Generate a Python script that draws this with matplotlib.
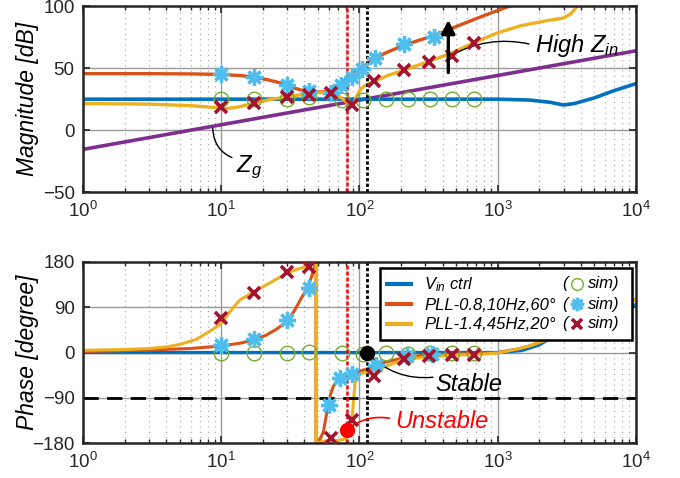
import matplotlib.pyplot as plt
import numpy as np
from matplotlib.lines import Line2D
from matplotlib.ticker import LogLocator, NullFormatter

plt.rcParams['font.family'] = ['Liberation Sans', 'DejaVu Sans']
plt.rcParams['mathtext.fontset'] = 'custom'
plt.rcParams['mathtext.rm'] = 'Liberation Sans'
plt.rcParams['mathtext.it'] = 'Liberation Sans:italic'
plt.rcParams['mathtext.bf'] = 'Liberation Sans:bold'

# colours (MATLAB default order)
c_vin = '#0072BD'
c_pll1 = '#D95319'
c_pll2 = '#EDB120'
c_zg = '#7E2F8E'
c_circ = '#77AC30'
c_star = '#4DBEEE'
c_x = '#A2142F'
ink = '#262626'

# ---- magnitude data [dB] ----
zg_f = [1, 1e4]
zg_db = [-15.5, 64]

vin_mag_f = [1, 100, 1000, 1700, 2400, 3000, 3600, 5000, 7000, 10000]
vin_mag_db = [25, 25, 25, 24.3, 22.5, 20.3, 21.5, 26, 32, 37.5]

pll1_mag_f = [1, 3, 6, 10, 14, 18, 22, 26, 30, 34, 38, 43, 50, 56, 61, 66, 73, 80,
              88, 96, 105, 115, 130, 160, 210, 270, 350, 500, 700, 1000, 1250]
pll1_mag_db = [45.6, 45.6, 45.4, 45, 44, 42.5, 40.5, 38.5, 36.3, 34, 32.3, 31.2, 30.8,
               31, 32.3, 34.5, 37.5, 41, 44, 47.5, 50.5, 54, 58.5, 63, 68.5, 72.5,
               76.5, 83.5, 90, 96.5, 100.5]

pll2_mag_f = [1, 3, 6, 9, 11, 13, 17, 22, 30, 38, 45, 52, 58, 64, 70, 76, 82, 87, 90,
              93, 97, 103, 110, 128, 160, 210, 320, 470, 670, 1000, 1500, 2200, 3000,
              3400, 3800]
pll2_mag_db = [21.5, 21, 19.8, 18.3, 17.5, 18.5, 21.5, 24.5, 27, 28.7, 29.8, 30.3, 30.5,
               30, 28, 25, 22, 20.5, 20.8, 24, 29, 33.5, 36, 39.5, 44, 48.5, 55.5, 62.5,
               70.5, 78.5, 84.5, 88, 90.5, 94, 100.5]

# ---- phase data [deg] ----
vin_ph_f = [1, 1000, 1500, 2000, 3000, 10000]
vin_ph_deg = [0, 0, 4, 15, 45, 95]

pll1_ph_f = [1, 3, 6, 10, 14, 17, 21, 25, 30, 34, 38, 42, 45, 48.5, 48.5, 52, 55, 57,
             59.6, 62, 64.6, 68, 73.5, 80, 88, 100, 113, 130, 160, 220, 330, 500, 1000,
             1400, 1700, 2200, 3000, 5000, 10000]
pll1_ph_deg = [2, 5, 8, 13, 19, 25, 34, 46, 62, 84, 108, 128, 150, 180, -180, -172,
               -157, -132, -104, -82, -68, -58, -51, -46, -42, -37, -33, -25, -18, -9,
               -4, -3, 0, 7, 13, 24, 45, 80, 105]

pll2_ph_f = [1, 2, 3, 4, 5, 6.6, 8.7, 10, 11.5, 13.6, 17, 22.4, 30, 36, 43, 48.5, 48.5,
             55, 62, 70, 78, 83, 87, 89, 91, 93, 95, 100, 110, 130, 160, 200, 260, 330,
             500, 700, 1000, 1400, 1700, 2200, 3000, 5000, 10000]
pll2_ph_deg = [4.5, 6, 8, 11, 16, 26, 46, 58, 80, 104, 120, 138, 158, 166, 172, 180,
               -180, -176, -175, -175, -172, -166, -150, -125, -90, -62, -50, -44, -40,
               -36, -26, -16, -11, -8, -5, -4, -1, 7, 13, 24, 45, 80, 105]

# ---- simulation points ----
circ_f = [10, 17.3, 30, 43, 75, 106, 157, 224, 324, 467, 673]
circ_db = [25.5, 25.5, 25.5, 27, 24.5, 24.5, 25.5, 25, 25, 25, 25]
circ_deg = [0, 0, 0, 2, 0, -3, 0, -2, 0, 0, 0]

star_mag_f = [10, 17.3, 30, 43, 62, 73.5, 88, 105, 130, 210, 345]
star_db = [45.2, 42.5, 36.3, 31.7, 30.2, 36.5, 43, 49.5, 58.6, 69.5, 75]
star_ph_f = [10, 17.3, 30, 43, 60, 73, 88, 131, 222, 333]
star_deg = [15, 26, 64.6, 127.7, -104, -51.4, -42.8, -25.5, -7, -3]

x_f = [10, 17.3, 30, 43, 62, 89, 128, 210, 320, 470, 673]
x_db = [18.3, 22, 26.4, 28.2, 29.6, 20.2, 39.3, 48.4, 55.2, 60, 70.7]
x_deg = [68, 119, 160.7, 170.7, -170.7, -134, -46.7, -13, -6.5, -5, -5]

# crossover frequencies and phase margins
f_unstable, ph_unstable = 81.6, -153
f_stable, ph_stable = 113, 0

legend_labels = ['V$_{in}$ ctrl', 'PLL-0.8,10Hz,60°', 'PLL-1.4,45Hz,20°']


def style_axes(ax, yticks, ylim, ylabel):
    ax.set_xscale('log')
    ax.set_xlim(1, 1e4)
    ax.set_ylim(*ylim)
    ax.set_yticks(yticks)
    ax.xaxis.set_minor_locator(LogLocator(base=10, subs=np.arange(2, 10), numticks=20))
    ax.xaxis.set_minor_formatter(NullFormatter())
    ax.set_axisbelow(True)
    ax.grid(True, which='major', color='#9a9a9a', lw=1.0)
    ax.grid(True, which='minor', axis='x', color='#b0b0b0', lw=0.9, ls=(0, (1, 3.2)))
    ax.tick_params(which='both', direction='in', top=True, right=True,
                   labelsize=13.5, colors=ink, pad=6)
    ax.tick_params(which='major', length=5, width=1.2)
    ax.tick_params(which='minor', length=3, width=1)
    for s in ax.spines.values():
        s.set_linewidth(1.8)
        s.set_color(ink)
    ax.set_ylabel(ylabel, fontsize=16.5, style='italic', color='k')
    ax.yaxis.set_label_coords(-0.08, 0.5)


def crossover_lines(ax):
    ax.axvline(f_unstable, color='#ff0000', lw=1.8, ls=(0, (1.6, 0.8)), zorder=2.5)
    ax.axvline(f_stable, color='k', lw=2.0, ls=(0, (1.2, 0.8)), zorder=2.5)


fig = plt.figure(figsize=(6.8, 4.78), dpi=100)
ax1 = fig.add_axes([0.122, 0.598, 0.813, 0.389])
ax2 = fig.add_axes([0.122, 0.073, 0.813, 0.379])

star_kw = dict(ls='none', marker=(8, 2, 0), ms=12, mec=c_star, mfc=c_star, mew=2.4, zorder=4)
x_kw = dict(ls='none', marker='x', ms=9, mec=c_x, mew=2.6, zorder=4)
circ_kw = dict(ls='none', marker='o', ms=10.5, mfc='none', mec=c_circ, mew=1.0, zorder=4)

# magnitude
style_axes(ax1, [-50, 0, 50, 100], (-50, 100), 'Magnitude [dB]')
crossover_lines(ax1)
ax1.plot(zg_f, zg_db, color=c_zg, lw=2.6)
ax1.plot(vin_mag_f, vin_mag_db, color=c_vin, lw=2.6)
ax1.plot(pll1_mag_f, pll1_mag_db, color=c_pll1, lw=2.4)
ax1.plot(pll2_mag_f, pll2_mag_db, color=c_pll2, lw=2.4)
ax1.plot(circ_f, circ_db, **circ_kw)
ax1.plot(star_mag_f, star_db, **star_kw)
ax1.plot(x_f, x_db, **x_kw)

ax1.annotate('', xy=(440, 89), xytext=(440, 46.5),
             arrowprops=dict(arrowstyle='-|>', lw=2.4, color='k', mutation_scale=20,
                             shrinkA=0, shrinkB=0), zorder=5)
ax1.annotate('High Z$_{in}$', xy=(455, 60), xytext=(1850, 68.5), fontsize=17,
             style='italic', ha='left', va='center',
             arrowprops=dict(arrowstyle='-', lw=1.0, color='k', relpos=(0, 0.5),
                             shrinkA=2, shrinkB=0, connectionstyle='arc3,rad=0.2'))
ax1.annotate('Z$_g$', xy=(8.7, 1.5), xytext=(12.8, -30), fontsize=17,
             style='italic', ha='left', va='center',
             arrowprops=dict(arrowstyle='-', lw=1.0, color='k', relpos=(0, 0.8),
                             shrinkA=1, shrinkB=0, connectionstyle='arc3,rad=-0.35'))

# phase
style_axes(ax2, [-180, -90, 0, 90, 180], (-180, 180), 'Phase [degree]')
crossover_lines(ax2)
ax2.axhline(-90, color='k', lw=2.0, ls=(0, (5.5, 3)), zorder=2.2)
ax2.plot(vin_ph_f, vin_ph_deg, color=c_vin, lw=2.4)
ax2.plot(pll1_ph_f, pll1_ph_deg, color=c_pll1, lw=2.2)
ax2.plot(pll2_ph_f, pll2_ph_deg, color=c_pll2, lw=2.2)
ax2.plot(circ_f, circ_deg, **circ_kw)
ax2.plot(star_ph_f, star_deg, **star_kw)
ax2.plot(x_f, x_deg, **x_kw)

ax2.plot([f_stable], [ph_stable], 'o', color='k', ms=10, zorder=6)
ax2.plot([f_unstable], [ph_unstable], 'o', color='#ff0000', ms=10, zorder=6)
ax2.annotate('Stable', xy=(f_stable, ph_stable), xytext=(357, -64.5), fontsize=17,
             style='italic', ha='left', va='center', color='k',
             arrowprops=dict(arrowstyle='-', lw=1.0, color='k', relpos=(0, 0.85),
                             shrinkA=0, shrinkB=0, connectionstyle='arc3,rad=-0.25'))
ax2.annotate('Unstable', xy=(f_unstable, ph_unstable), xytext=(181, -137.5), fontsize=17,
             style='italic', ha='left', va='center', color='#ff0000',
             arrowprops=dict(arrowstyle='-', lw=1.2, color='#ff0000', relpos=(0, 0.6),
                             shrinkA=2, shrinkB=0, connectionstyle='arc3,rad=0.25'))

handles = [Line2D([], [], color=c, lw=3) for c in (c_vin, c_pll1, c_pll2)]
leg = ax2.legend(handles, legend_labels, loc='upper left',
                 bbox_to_anchor=(0.537, 0.558, 0.456, 0.409), mode='expand',
                 prop=dict(size=12, style='italic'), handlelength=1.4,
                 handletextpad=0.8, labelspacing=0.25, borderpad=0.45,
                 borderaxespad=0, fancybox=False, framealpha=1)
leg.get_frame().set_edgecolor('k')
leg.get_frame().set_linewidth(1.8)
leg.set_zorder(10)

# "( marker sim)" tags on the right of each legend row
fig.canvas.draw()
inv = ax2.transAxes.inverted()
sim_styles = [circ_kw, star_kw, x_kw]
for h, kw in zip(leg.legend_handles, sim_styles):
    bb = h.get_window_extent(fig.canvas.get_renderer())
    yc = inv.transform((0, (bb.y0 + bb.y1) / 2))[1]
    ax2.text(0.866, yc, '(', transform=ax2.transAxes, fontsize=12, style='italic',
             ha='left', va='center', zorder=11)
    mk = dict(kw)
    mk['zorder'] = 11
    mk['ms'] = kw['ms'] * 0.8
    ax2.plot([0.894], [yc], transform=ax2.transAxes, clip_on=False, **mk)
    ax2.text(0.914, yc, 'sim)', transform=ax2.transAxes, fontsize=12, style='italic',
             ha='left', va='center', zorder=11)

fig.savefig('out.png', dpi=100)
